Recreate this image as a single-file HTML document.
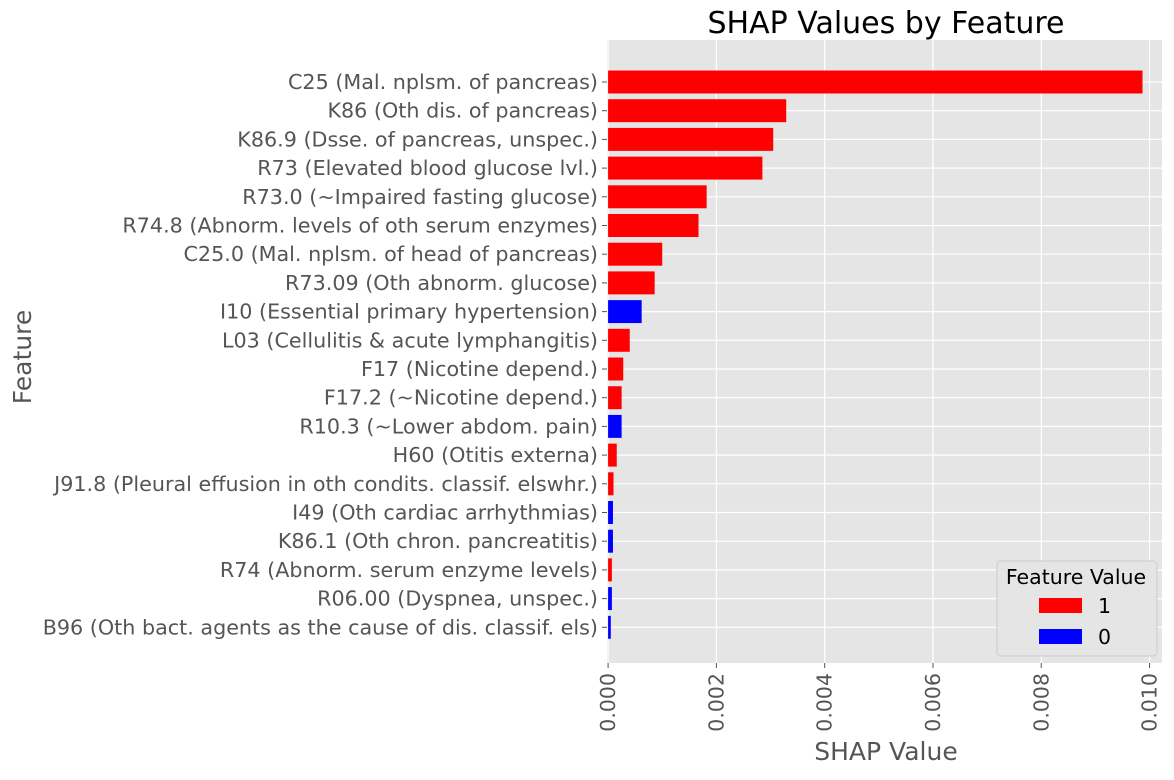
<!DOCTYPE html>
<html><head><meta charset="utf-8">
<style>
body{margin:0;background:#fff;font-family:"Liberation Sans","DejaVu Sans",sans-serif}
svg text{font-family:"DejaVu Sans","Liberation Sans",sans-serif}
</style></head><body>
<svg id="chart" width="1174" height="775" xmlns="http://www.w3.org/2000/svg">
<rect width="1174" height="775" fill="#fff"/>
<g id="plot"></g>
</svg>
<script>
const features=["C25 (Mal. nplsm. of pancreas)","K86 (Oth dis. of pancreas)","K86.9 (Dsse. of pancreas, unspec.)","R73 (Elevated blood glucose lvl.)","R73.0 (~Impaired fasting glucose)","R74.8 (Abnorm. levels of oth serum enzymes)","C25.0 (Mal. nplsm. of head of pancreas)","R73.09 (Oth abnorm. glucose)","I10 (Essential primary hypertension)","L03 (Cellulitis & acute lymphangitis)","F17 (Nicotine depend.)","F17.2 (~Nicotine depend.)","R10.3 (~Lower abdom. pain)","H60 (Otitis externa)","J91.8 (Pleural effusion in oth condits. classif. elswhr.)","I49 (Oth cardiac arrhythmias)","K86.1 (Oth chron. pancreatitis)","R74 (Abnorm. serum enzyme levels)","R06.00 (Dyspnea, unspec.)","B96 (Oth bact. agents as the cause of dis. classif. els)"];
const shapValues=[0.00987,0.00329,0.00305,0.00285,0.00182,0.00167,0.00100,0.00086,0.00062,0.00040,0.00028,0.00025,0.00025,0.00016,0.00010,0.00009,0.00009,0.00007,0.00007,0.00005];
const featureValues=[1,1,1,1,1,1,1,1,0,1,1,1,0,1,1,0,0,1,0,0];
const xTicks=[0,0.002,0.004,0.006,0.008,0.010];
const xTickLabels=["0.000","0.002","0.004","0.006","0.008","0.010"];

const L=607,R=1162,T=40,B=663;
const xMin=-0.00002,xMax=0.01023;
const n=features.length;
function x(v){return L+(v-xMin)/(xMax-xMin)*(R-L);}
const step=28.7;
function yc(i){return 82+i*step;}
const NS="http://www.w3.org/2000/svg";
const g=document.getElementById('plot');
function el(tag,attrs,parent){const e=document.createElementNS(NS,tag);for(const k in attrs)e.setAttribute(k,attrs[k]);(parent||g).appendChild(e);return e;}
const bg=el('rect',{x:L,y:T,width:R-L,height:B-T,fill:'#e5e5e5'});


xTicks.forEach((t,i)=>{
 const gl=el('line',{x1:x(t),x2:x(t),y1:T,y2:B,stroke:'#fff','stroke-width':1.2});
 
 
 el('line',{x1:x(t),x2:x(t),y1:B,y2:B+5,stroke:'#555','stroke-width':1});
 const tx=el('text',{x:0,y:0,transform:`translate(${x(t)+7},${B+10}) rotate(-90)`,'text-anchor':'end','font-size':20.5,fill:'#555'});
 tx.textContent=xTickLabels[i];
 
 
});
features.forEach((f,i)=>{
 const cy=yc(i);
 const gl=el('line',{x1:L,x2:R,y1:cy,y2:cy,stroke:'#fff','stroke-width':1.2});
 
 
});
features.forEach((f,i)=>{
 const cy=yc(i),h=step*0.8;
 const b=el('rect',{x:x(0),y:cy-h/2,width:x(shapValues[i])-x(0),height:h,fill:featureValues[i]?'#ff0000':'#0000ff'});
 
 
 el('line',{x1:L-5,x2:L,y1:cy,y2:cy,stroke:'#555','stroke-width':1});
 const t=el('text',{x:L-9,y:cy+7,'text-anchor':'end','font-size':20.7,fill:'#555'});
 t.textContent=f;
 
 
});
const title=el('text',{x:886,y:33,'text-anchor':'middle','font-size':30,fill:'#000'});
title.textContent='SHAP Values by Feature';


const xl=el('text',{x:886,y:760,'text-anchor':'middle','font-size':25,fill:'#555'});
xl.textContent='SHAP Value';


const yl=el('text',{x:0,y:0,transform:'translate(31,357) rotate(-90)','text-anchor':'middle','font-size':25,fill:'#555'});
yl.textContent='Feature';


const lg=el('g',{});


el('rect',{x:997,y:561,width:160,height:95,rx:4,fill:'#e5e5e5',stroke:'#ccc','stroke-width':1},lg);
const lt=el('text',{x:1076,y:584,'text-anchor':'middle','font-size':20.5,fill:'#000'},lg);
lt.textContent='Feature Value';
[["1","#ff0000",605],["0","#0000ff",636]].forEach(([lab,c,yy])=>{
 const r=el('rect',{x:1039,y:yy-7,width:43,height:15,fill:c},lg);
 
 
 const t=el('text',{x:1098,y:yy+8,'font-size':20.5,fill:'#000'},lg);
 t.textContent=lab;
 
 
});
</script>
</body></html>
